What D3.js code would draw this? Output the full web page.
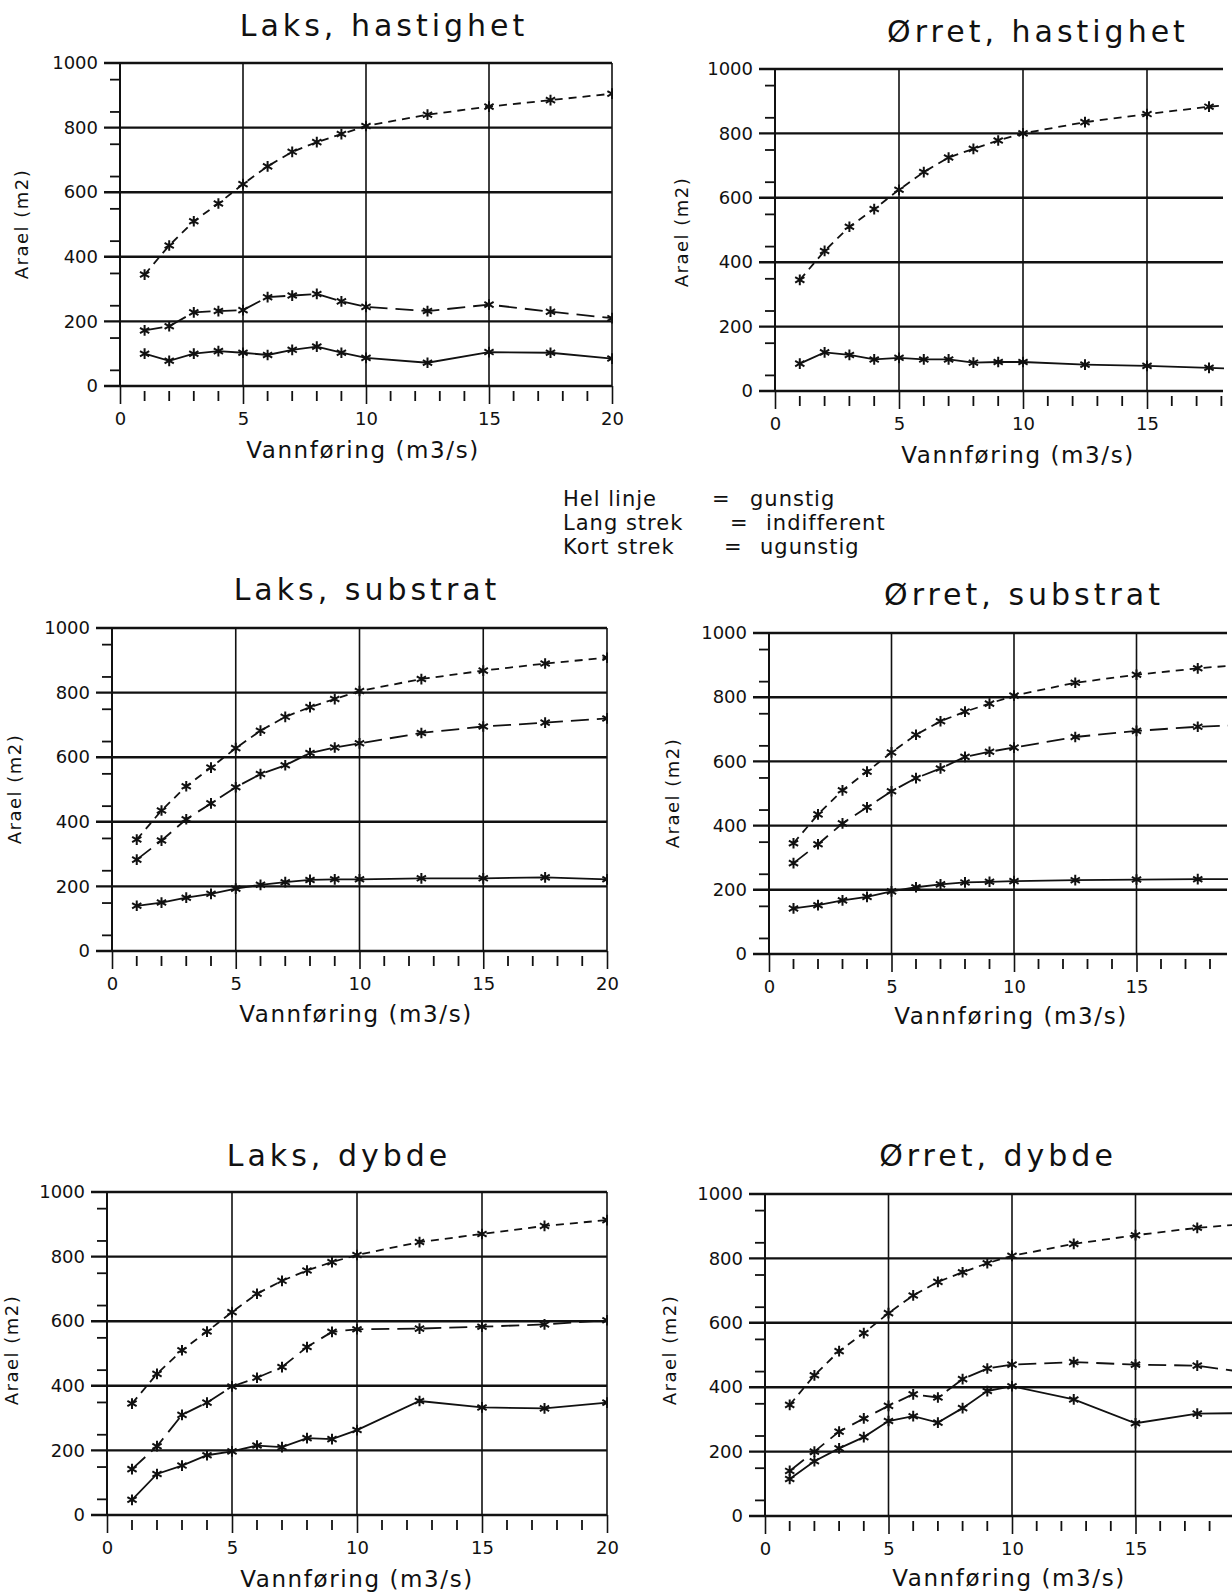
<!DOCTYPE html>
<html>
<head>
<meta charset="utf-8">
<script src="https://cdn.jsdelivr.net/npm/d3@7"></script>
<style>
	body { margin: 0; background: #fff; }
	text { font-family: "DejaVu Sans", sans-serif; fill: #111; }
</style>
</head>
<body>
<svg id="chart" width="1232" height="1595"></svg>
<script>
// discharge values (m3/s) where the area was computed
var flows = [1, 2, 3, 4, 5, 6, 7, 8, 9, 10, 12.5, 15, 17.5, 20];
var yTicks = [0, 200, 400, 600, 800, 1000];
var xTicks = [0, 5, 10, 15, 20];
var titles = ["Laks, hastighet", "Ørret, hastighet", "Laks, substrat", "Ørret, substrat", "Laks, dybde", "Ørret, dybde"];
var xTitle = "Vannføring (m3/s)";
var yTitle = "Arael (m2)";
var legendNames = ["Hel linje", "Lang strek", "Kort strek"];
var legendMeanings = ["gunstig", "indifferent", "ugunstig"];

// Laks, hastighet
var laksHastGunstig = [100, 78, 100, 108, 103, 96, 112, 122, 103, 87, 72, 105, 103, 85];
var laksHastIndiff = [172, 185, 228, 232, 235, 275, 280, 285, 262, 245, 232, 252, 230, 210];
var laksHastUgunstig = [345, 435, 510, 565, 625, 680, 725, 755, 780, 805, 840, 865, 885, 905];
// Ørret, hastighet
var orretHastGunstig = [85, 120, 112, 98, 103, 98, 98, 88, 90, 90, 82, 78, 72, 66];
var orretHastUgunstig = [345, 435, 510, 565, 625, 680, 725, 752, 778, 800, 835, 860, 883, 900];
// Laks, substrat
var laksSubGunstig = [140, 150, 165, 177, 193, 205, 213, 220, 222, 222, 225, 225, 228, 222];
var laksSubIndiff = [283, 342, 408, 457, 507, 548, 575, 613, 630, 643, 675, 695, 707, 720];
var laksSubUgunstig = [345, 435, 510, 568, 628, 682, 725, 755, 780, 805, 842, 868, 890, 908];
// Ørret, substrat
var orretSubGunstig = [142, 152, 167, 178, 195, 208, 217, 223, 225, 227, 230, 232, 233, 233];
var orretSubIndiff = [283, 342, 407, 457, 507, 548, 578, 614, 630, 643, 676, 695, 708, 715];
var orretSubUgunstig = [345, 435, 510, 568, 628, 683, 725, 755, 780, 805, 845, 870, 890, 905];
// Laks, dybde
var laksDybGunstig = [47, 127, 153, 185, 197, 215, 210, 238, 235, 263, 353, 333, 330, 348];
var laksDybIndiff = [142, 213, 310, 348, 398, 425, 458, 520, 567, 575, 577, 583, 590, 603];
var laksDybUgunstig = [345, 437, 510, 568, 628, 685, 725, 757, 783, 805, 845, 870, 895, 913];
// Ørret, dybde
var orretDybGunstig = [115, 170, 210, 245, 295, 310, 290, 335, 388, 403, 362, 288, 318, 320];
var orretDybIndiff = [140, 200, 262, 303, 342, 378, 368, 425, 458, 470, 478, 470, 467, 440];
var orretDybUgunstig = [345, 437, 512, 568, 630, 685, 727, 757, 785, 808, 845, 872, 895, 910];

var panelSeries = [
	[laksHastGunstig, laksHastIndiff, laksHastUgunstig],
	[orretHastGunstig, null, orretHastUgunstig],
	[laksSubGunstig, laksSubIndiff, laksSubUgunstig],
	[orretSubGunstig, orretSubIndiff, orretSubUgunstig],
	[laksDybGunstig, laksDybIndiff, laksDybUgunstig],
	[orretDybGunstig, orretDybIndiff, orretDybUgunstig]
];

// where each panel sits on the page
var boxes = [
	{left: 120, unit: 24.6, right: 612, top: 63, bottom: 386, closed: true, tx: 384, ty: 36, lx: 363, ly: 458, yx: 28, yy: 224},
	{left: 775, unit: 24.8, right: 1223, top: 69, bottom: 391, closed: false, tx: 1038, ty: 42, lx: 1018, ly: 463, yx: 688, yy: 232},
	{left: 112, unit: 24.75, right: 607, top: 628, bottom: 951, closed: true, tx: 367, ty: 600, lx: 356, ly: 1022, yx: 21, yy: 789},
	{left: 769, unit: 24.5, right: 1227, top: 633, bottom: 954, closed: false, tx: 1024, ty: 605, lx: 1011, ly: 1024, yx: 679, yy: 793},
	{left: 107, unit: 25, right: 607, top: 1192, bottom: 1515, closed: true, tx: 339, ty: 1166, lx: 357, ly: 1587, yx: 18, yy: 1350},
	{left: 765, unit: 24.7, right: 1232, top: 1194, bottom: 1516, closed: false, tx: 998, ty: 1166, lx: 1009, ly: 1586, yx: 676, yy: 1350}
];

var dashes = [null, "18,8", "8,6"];

function Panel(context, box, index)
{
	this.svg = context;
	this.box = box;
	this.index = index;
	this.group = context.append("g");
	var xMax = box.closed ? 20 : (box.right - box.left) / box.unit;
	this.xMax = xMax;
	this.x = d3.scaleLinear()
				.domain([0, xMax])
				.range([box.left, box.right]);
	this.y = d3.scaleLinear()
				.domain([0, 1000])
				.range([box.bottom, box.top]);
}

Panel.prototype.DrawFrame = function()
{
	var _this = this;
	var g = this.group;
	var b = this.box;

	// minor ticks on y, every 50
	var minorY = d3.range(50, 1000, 100);
	g.append("g")
		.attr("transform", "translate(" + b.left + ",0)")
		.call(d3.axisLeft(this.y).tickValues(minorY).tickSize(10).tickFormat(""))
		.call(function(s) { s.select(".domain").remove(); })
		.selectAll("line").attr("stroke", "#111").attr("stroke-width", 1.8);

	// major ticks and labels on y
	var ya = g.append("g")
		.attr("transform", "translate(" + b.left + ",0)")
		.call(d3.axisLeft(this.y).tickValues(yTicks).tickSize(16).tickPadding(6).tickFormat(d3.format("d")));
	ya.select(".domain").remove();
	ya.selectAll("line").remove();
	ya.selectAll("text").attr("font-size", 18).attr("font-family", "DejaVu Sans").attr("fill", "#111");

	// minor ticks on x, every 1
	var minorX = d3.range(1, Math.floor(this.xMax + 0.01) + 1).filter(function(v) { return v % 5 != 0; });
	g.append("g").selectAll("line")
		.data(minorX)
		.enter().append("line")
			.attr("x1", function(d) { return _this.x(d); })
			.attr("x2", function(d) { return _this.x(d); })
			.attr("y1", b.bottom + 5)
			.attr("y2", b.bottom + 15)
			.attr("stroke", "#111")
			.attr("stroke-width", 1.8);

	var xa = g.append("g")
		.attr("transform", "translate(0," + b.bottom + ")")
		.call(d3.axisBottom(this.x).tickValues(xTicks.filter(function(v) { return v <= _this.xMax; })).tickSize(18).tickPadding(8));
	xa.select(".domain").remove();
	xa.selectAll("line").attr("stroke", "#111").attr("stroke-width", 1.6);
	xa.selectAll("text").attr("font-size", 18).attr("font-family", "DejaVu Sans").attr("fill", "#111");

	// horizontal grid
	g.append("g").selectAll("line")
		.data(yTicks)
		.enter().append("line")
			.attr("x1", b.left - 16)
			.attr("x2", b.right)
			.attr("y1", function(d) { return _this.y(d); })
			.attr("y2", function(d) { return _this.y(d); })
			.attr("stroke", "#111")
			.attr("stroke-width", 2.4);

	// vertical grid incl. y axis line
	var vx = xTicks.filter(function(v) { return v <= _this.xMax; });
	g.append("g").selectAll("line")
		.data(vx)
		.enter().append("line")
			.attr("x1", function(d) { return _this.x(d); })
			.attr("x2", function(d) { return _this.x(d); })
			.attr("y1", b.top)
			.attr("y2", b.bottom)
			.attr("stroke", "#111")
			.attr("stroke-width", function(d) { return d == 0 ? 2 : 1.6; });
}

Panel.prototype.DrawSeries = function(values, dash)
{
	var _this = this;
	var b = this.box;
	var id = "clip" + this.index;
	this.svg.append("clipPath").attr("id", id)
		.append("rect")
			.attr("x", b.left).attr("y", b.top - 10)
			.attr("width", b.right - b.left + 1).attr("height", b.bottom - b.top + 20);

	var pts = flows.map(function(f, i) { return {f: f, v: values[i]}; });
	var line = d3.line()
		.x(function(d) { return _this.x(d.f); })
		.y(function(d) { return _this.y(d.v); });

	var s = this.group.append("g").attr("clip-path", "url(#" + id + ")");
	s.append("path")
		.attr("d", line(pts))
		.attr("fill", "none")
		.attr("stroke", "#111")
		.attr("stroke-width", 1.8)
		.attr("stroke-dasharray", dash);

	var star = d3.symbol().type(d3.symbolAsterisk).size(80);
	s.selectAll("path.mark")
		.data(pts.filter(function(d) { return d.f <= _this.xMax; }))
		.enter().append("path")
			.attr("class", "mark")
			.attr("d", star)
			.attr("transform", function(d) { return "translate(" + _this.x(d.f) + "," + _this.y(d.v) + ")"; })
			.attr("fill", "none")
			.attr("stroke", "#111")
			.attr("stroke-width", 2);
}

Panel.prototype.DrawTitles = function(title)
{
	var b = this.box;
	this.group.append("text")
		.attr("x", b.tx).attr("y", b.ty)
		.attr("text-anchor", "middle")
		.attr("font-size", 30)
		.attr("letter-spacing", 4)
		.text(title);
	this.group.append("text")
		.attr("x", b.lx).attr("y", b.ly)
		.attr("text-anchor", "middle")
		.attr("font-size", 23)
		.attr("letter-spacing", 1.6)
		.text(xTitle);
	this.group.append("text")
		.attr("transform", "translate(" + b.yx + "," + b.yy + ") rotate(-90)")
		.attr("text-anchor", "middle")
		.attr("font-size", 18)
		.attr("letter-spacing", 1.5)
		.text(yTitle);
}

var svg = d3.select("#chart");

boxes.forEach(function(box, i)
{
	var p = new Panel(svg, box, i);
	p.DrawFrame();
	panelSeries[i].forEach(function(values, k)
	{
		if(values != null)
			p.DrawSeries(values, dashes[k]);
	});
	p.DrawTitles(titles[i]);
});

// legend in the middle
var legend = svg.append("g");
var rowY = [506, 530, 554];
var eqX = [712, 730, 724];
var meanX = [750, 766, 760];
legendNames.forEach(function(name, i)
{
	legend.append("text").attr("x", 563).attr("y", rowY[i]).attr("font-size", 21).attr("letter-spacing", 1).text(name);
	legend.append("text").attr("x", eqX[i]).attr("y", rowY[i]).attr("font-size", 21).text("=");
	legend.append("text").attr("x", meanX[i]).attr("y", rowY[i]).attr("font-size", 21).attr("letter-spacing", 1).text(legendMeanings[i]);
});
</script>
</body>
</html>
